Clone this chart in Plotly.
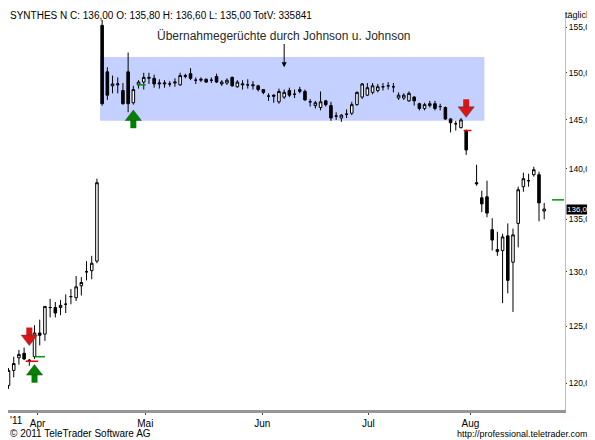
import math
import plotly.graph_objects as go

# daily OHLC, Synthes N, Mar-Aug 2011
opens = [119.8, 121.1, 122.2, 122.6, 122.0, 122.3, 124.4, 124.3, 126.7, 126.7,
         126.7, 127.0, 127.7, 127.6, 128.7, 130.0, 130.1, 131.0,
         155.2, 150.1, 148.6, 148.7, 148.1, 150.1, 146.8, 148.7, 149.0, 149.4,
         149.4, 148.8, 148.8, 148.8, 148.9, 148.7, 149.6, 149.9, 149.2, 149.2,
         149.3, 149.2, 149.6, 148.8, 148.9, 149.5, 148.5, 148.7, 148.7, 148.6,
         148.6, 148.2, 147.5, 147.6, 146.9, 147.4, 148.1, 147.7, 148.0, 148.0,
         146.9, 146.5, 146.3, 147.0, 146.5, 145.4, 145.2, 145.6, 145.7, 146.6,
         147.4, 147.6, 147.9, 148.1, 148.5, 148.6, 148.5, 147.3, 147.3, 147.0,
         147.4, 146.7, 146.2, 146.5, 146.7, 146.4, 146.3, 145.1, 144.6, 144.2,
         143.9, 138.6, 137.1, 137.2, 134.0, 131.9, 132.0, 133.4, 130.9, 134.6,
         138.2, 138.8, 139.4, 139.4, 135.8]
highs = [121.3, 122.3, 122.9, 123.1, 122.1, 125.1, 125.6, 126.8, 127.5, 127.2,
         127.4, 127.9, 128.4, 129.6, 129.5, 131.0, 131.5, 139.0,
         155.8, 150.6, 149.7, 149.5, 148.9, 152.2, 148.6, 149.2, 150.0, 150.0,
         149.8, 149.3, 149.2, 149.1, 149.4, 150.0, 149.9, 150.5, 149.5, 149.5,
         149.4, 149.5, 149.9, 149.2, 149.4, 149.6, 149.2, 149.2, 149.3, 149.1,
         148.7, 148.2, 147.8, 147.7, 148.3, 148.2, 148.4, 148.2, 148.5, 148.2,
         147.2, 147.0, 148.0, 147.1, 146.9, 145.8, 145.6, 146.1, 146.9, 148.0,
         148.9, 148.9, 148.9, 148.8, 148.9, 149.0, 148.9, 147.9, 147.8, 148.0,
         147.5, 146.8, 146.8, 147.0, 147.0, 146.7, 146.4, 145.2, 144.9, 145.2,
         144.0, 140.4, 137.8, 138.8, 135.1, 133.8, 133.6, 134.6, 134.1, 138.2,
         139.6, 139.5, 140.2, 139.7, 136.6]
lows = [119.5, 120.5, 121.6, 122.0, 121.5, 122.1, 123.3, 123.7, 125.8, 125.8,
        126.0, 126.2, 127.0, 127.3, 127.8, 129.2, 129.3, 130.8,
        146.5, 147.1, 147.8, 147.8, 146.6, 145.8, 146.6, 148.3, 148.2, 148.8,
        148.4, 148.3, 148.4, 148.5, 148.5, 148.6, 149.4, 149.2, 148.8, 149.0,
        148.9, 148.9, 148.9, 148.6, 148.7, 148.5, 148.4, 148.2, 148.3, 148.2,
        148.0, 147.7, 147.0, 146.8, 146.7, 147.2, 147.4, 147.3, 147.8, 147.0,
        146.4, 146.2, 146.0, 146.4, 144.9, 145.0, 144.8, 145.2, 145.5, 146.5,
        147.2, 147.5, 147.7, 147.9, 148.1, 148.2, 147.9, 147.1, 147.1, 146.9,
        146.5, 146.0, 146.0, 146.3, 146.0, 146.0, 145.0, 143.7, 143.9, 144.1,
        141.4, 138.3, 135.7, 135.2, 132.0, 131.5, 127.1, 128.0, 126.3, 132.3,
        137.7, 138.2, 139.2, 134.8, 135.0]
closes = [121.1, 121.7, 122.5, 122.1, 121.9, 124.4, 124.2, 126.8, 126.7, 126.2,
          126.9, 127.0, 127.7, 128.6, 129.0, 130.0, 130.8, 138.6,
          146.7, 147.6, 148.8, 148.8, 146.7, 146.7, 148.2, 149.0, 149.5, 149.5,
          148.8, 148.9, 148.9, 148.8, 149.0, 149.7, 149.7, 149.4, 149.2, 149.3,
          149.0, 149.2, 149.0, 149.0, 149.2, 148.6, 149.0, 148.8, 148.7, 148.7,
          148.2, 147.9, 147.5, 147.5, 148.0, 147.9, 147.6, 147.7, 148.2, 147.1,
          146.9, 146.8, 146.9, 146.6, 145.2, 145.4, 145.5, 145.6, 146.6, 147.9,
          148.8, 148.4, 148.6, 148.5, 148.5, 148.6, 148.5, 147.6, 147.6, 147.8,
          147.0, 146.2, 146.6, 146.7, 146.2, 146.4, 145.1, 144.7, 144.6, 145.0,
          141.9, 138.5, 136.5, 135.6, 133.0, 132.1, 133.3, 129.2, 133.5, 137.9,
          139.0, 138.8, 139.9, 136.6, 136.0]
# one trading-day gap before Aug crash candle -> index offset
days = list(range(89)) + list(range(90, 104))

month_ticks = [5.6, 26.3, 48.8, 69.2, 88.8]
month_labels = ["Apr", "Mai", "Jun", "Jul", "Aug"]
year_label = "'11"
price_ticks = [120, 125, 130, 135, 140, 145, 150, 155]
price_labels = ["120,00", "125,00", "130,00", "135,00", "140,00", "145,00", "150,00", "155,00"]

# signal arrows: (day, price, direction)
signals = [(4, 123.9, "down"), (5, 121.0, "up"), (24, 145.3, "up"), (88, 146.0, "down")]

fig = go.Figure()

# rumour range box
fig.add_shape(type="rect", x0=17.6, x1=91.5, y0=144.9, y1=151.7,
              xref="x", yref="y", fillcolor="rgb(196,208,255)", line_width=0, layer="below")

fig.add_trace(go.Candlestick(
    x=days, open=opens, high=highs, low=lows, close=closes,
    increasing=dict(line=dict(color="black", width=1), fillcolor="white"),
    decreasing=dict(line=dict(color="black", width=1), fillcolor="black"),
    whiskerwidth=0, hoverinfo="none", showlegend=False))

for d, p, kind in signals:
    col = "rgb(220,20,20)" if kind == "down" else "rgb(0,130,0)"
    sym = "triangle-down" if kind == "down" else "triangle-up"
    stem = p * 1.008 if kind == "down" else p * 0.992
    fig.add_trace(go.Scatter(x=[d, d], y=[stem, p], mode="lines",
                             line=dict(color=col, width=6), hoverinfo="none", showlegend=False))
    fig.add_trace(go.Scatter(x=[d], y=[p], mode="markers",
                             marker=dict(symbol=sym, size=14, color=col,
                                         line=dict(color="rgb(60,60,60)", width=0.5)),
                             hoverinfo="none", showlegend=False))

# small signal ticks
fig.add_trace(go.Scatter(x=[3.3, 5.7, None, 87.5, 89.0], y=[121.9, 121.9, None, 143.9, 143.9],
                         mode="lines", line=dict(color="red", width=1.5), hoverinfo="none", showlegend=False))
fig.add_trace(go.Scatter(x=[5.0, 7.0, None, 24.7, 26.4, None, 104.5, 106.8],
                         y=[122.3, 122.3, None, 148.7, 148.7, None, 136.9, 136.9],
                         mode="lines", line=dict(color="rgb(0,150,0)", width=1.5), hoverinfo="none", showlegend=False))

fig.add_annotation(x=53, y=math.log10(150.6), ax=53, ay=math.log10(153.3), axref="x", ayref="y",
                   xref="x", yref="y", showarrow=True, arrowhead=2, arrowsize=1, arrowwidth=1,
                   arrowcolor="black", text="")
fig.add_annotation(x=53, y=math.log10(154.0), xref="x", yref="y", showarrow=False,
                   text="Übernahmegerüchte durch Johnson u. Johnson",
                   font=dict(size=12, color="rgb(40,40,40)"))

fig.add_annotation(x=0, y=1.0, xref="paper", yref="paper", xanchor="left", yanchor="middle",
                   showarrow=False, text="SYNTHES N C: 136,00 O: 135,80 H: 136,60 L: 135,00 TotV: 335841",
                   font=dict(size=10, color="black"), yshift=-3)
fig.add_annotation(x=1.0, y=1.0, xref="paper", yref="paper", xanchor="left", yanchor="middle",
                   showarrow=False, text="täglich", font=dict(size=9, color="black"), xshift=-2, yshift=-3)
fig.add_annotation(x=1.0, y=math.log10(136.0), xref="paper", yref="y", xanchor="left",
                   showarrow=False, text="136,00", bgcolor="black", font=dict(size=8, color="white"),
                   borderpad=0, xshift=1)
fig.add_annotation(x=0, y=0, xref="paper", yref="paper", xanchor="left", yanchor="top",
                   showarrow=False, text=year_label, font=dict(size=10, color="black"), yshift=-3)
fig.add_annotation(x=0, y=0, xref="paper", yref="paper", xanchor="left", yanchor="top",
                   showarrow=False, text="© 2011 TeleTrader Software AG", font=dict(size=10, color="black"),
                   yshift=-16)
fig.add_annotation(x=1.05, y=0, xref="paper", yref="paper", xanchor="right", yanchor="top",
                   showarrow=False, text="http://professional.teletrader.com/", font=dict(size=9, color="black"),
                   yshift=-17)

fig.update_layout(
    width=587, height=432, margin=dict(l=0, r=30, t=4, b=30, autoexpand=False),
    paper_bgcolor="white", plot_bgcolor="white", showlegend=False,
    font=dict(family="Liberation Sans, Arial", size=10, color="black"),
    xaxis=dict(range=[-0.1, 107.0], rangeslider=dict(visible=False), showgrid=False, zeroline=False,
               tickvals=month_ticks, ticktext=month_labels, ticks="outside", ticklen=2,
               showline=True, linecolor="rgb(150,150,150)", linewidth=3, tickfont=dict(size=10)),
    yaxis=dict(type="log", side="right", range=[math.log10(117.7), math.log10(156.7)],
               tickvals=price_ticks, ticktext=price_labels, showgrid=False, zeroline=False,
               showline=True, linecolor="rgb(230,200,60)", linewidth=1, ticks="outside", ticklen=1,
               tickfont=dict(size=8.5)),
)

fig.write_html("out.html")
